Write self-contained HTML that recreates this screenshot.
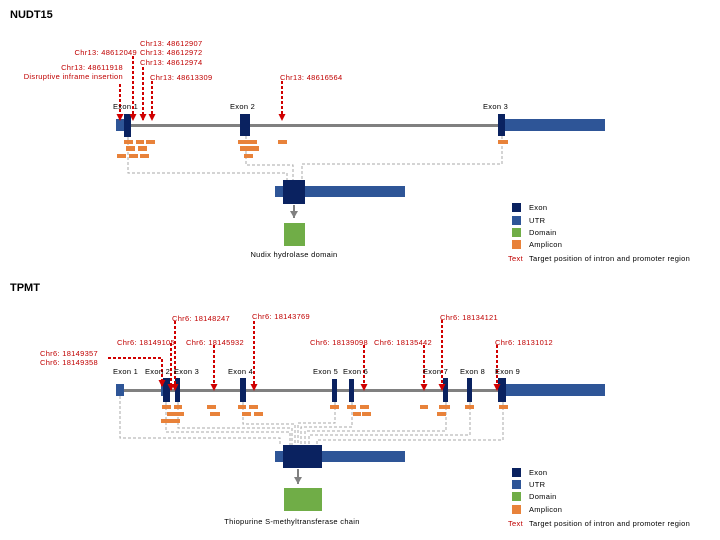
<!DOCTYPE html><html><head><style>body{margin:0;background:#fff}svg{display:block}text{font-family:"Liberation Sans",sans-serif;font-size:7.5px;letter-spacing:0.3px}</style></head><body>
<svg width="720" height="540" xmlns="http://www.w3.org/2000/svg">
<defs><marker id="a" markerWidth="7" markerHeight="8" refX="6" refY="3.5" orient="auto" markerUnits="userSpaceOnUse"><path d="M0,0L7,3.5L0,7z" fill="#d00000"/></marker>
<marker id="g" markerWidth="8" markerHeight="8" refX="7" refY="4" orient="auto" markerUnits="userSpaceOnUse"><path d="M0,0L7,4L0,8z" fill="#808080"/></marker></defs>
<text x="10" y="18" style="font-size:11px;font-weight:bold;letter-spacing:0">NUDT15</text>
<g stroke="#aaa" stroke-dasharray="3,2" fill="none" stroke-width="1">
<path d="M128,137V173H287V180"/><path d="M246,136V165H293V180"/><path d="M502,136V164H302V180"/></g>
<rect x="120" y="124" width="385" height="3" fill="#808080"/>
<rect x="116" y="119" width="8" height="12" fill="#2e5597"/><rect x="505" y="119" width="100" height="12" fill="#2e5597"/>
<g fill="#0a2260"><rect x="124" y="114" width="7" height="23"/><rect x="240" y="114" width="10" height="22"/><rect x="498" y="114" width="7" height="22"/></g>
<g fill="#e8823a"><rect x="124" y="140" width="9" height="4"/><rect x="136" y="140" width="8" height="4"/><rect x="146" y="140" width="9" height="4"/><rect x="126" y="146" width="9" height="5"/><rect x="138" y="146" width="9" height="5"/><rect x="117" y="154" width="9" height="4"/><rect x="129" y="154" width="9" height="4"/><rect x="140" y="154" width="9" height="4"/>
<rect x="238" y="140" width="19" height="4"/><rect x="240" y="146" width="19" height="5"/><rect x="244" y="154" width="9" height="4"/><rect x="278" y="140" width="9" height="4"/><rect x="498" y="140" width="10" height="4"/></g>
<g stroke="#d00000" stroke-width="2" stroke-dasharray="3,2" marker-end="url(#a)"><path d="M120,84V120"/><path d="M133,56V120"/><path d="M143,67V120"/><path d="M152,81V120"/><path d="M282,81V120"/></g>
<g fill="#c00000"><text x="140" y="46">Chr13: 48612907</text><text x="137" y="55" text-anchor="end">Chr13: 48612049</text><text x="140" y="55">Chr13: 48612972</text><text x="140" y="65">Chr13: 48612974</text><text x="123" y="70" text-anchor="end">Chr13: 48611918</text><text x="123" y="79" text-anchor="end">Disruptive inframe insertion</text><text x="150" y="80">Chr13: 48613309</text><text x="280" y="80">Chr13: 48616564</text></g>
<text x="113" y="109">Exon 1</text><text x="230" y="109">Exon 2</text><text x="483" y="109">Exon 3</text>
<rect x="275" y="186" width="130" height="11" fill="#2e5597"/><rect x="283" y="180" width="22" height="24" fill="#0a2260"/>
<path d="M294,205V218" stroke="#808080" stroke-width="2" marker-end="url(#g)"/>
<rect x="284" y="223" width="21" height="23" fill="#70ad47"/>
<text x="294" y="257" text-anchor="middle">Nudix hydrolase domain</text>
<rect x="512" y="203" width="9" height="9" fill="#0a2260"/><rect x="512" y="216" width="9" height="9" fill="#2e5597"/><rect x="512" y="228" width="9" height="9" fill="#70ad47"/><rect x="512" y="240" width="9" height="9" fill="#e8823a"/>
<text x="529" y="210">Exon</text><text x="529" y="223">UTR</text><text x="529" y="235">Domain</text><text x="529" y="247">Amplicon</text><text x="508" y="261" fill="#c00000">Text</text><text x="529" y="261">Target position of intron and promoter region</text>

<text x="10" y="291" style="font-size:11px;font-weight:bold;letter-spacing:0">TPMT</text>
<g stroke="#aaa" stroke-dasharray="3,2" fill="none"><path d="M120,396V438H280V445"/><path d="M166,402V432H290V445"/><path d="M178,402V428H292V445"/><path d="M243,402V424H295V445"/><path d="M335,402V423H298V445"/><path d="M352,402V427H301V445"/><path d="M446,402V431H305V445"/><path d="M470,402V435H309V445"/><path d="M503,402V440H317V445"/></g>
<rect x="118" y="389" width="387" height="3" fill="#808080"/>
<rect x="116" y="384" width="8" height="12" fill="#2e5597"/><rect x="161" y="384" width="4" height="12" fill="#2e5597"/><rect x="505" y="384" width="100" height="12" fill="#2e5597"/>
<g fill="#0a2260"><rect x="163" y="378" width="7" height="24"/><rect x="175" y="378" width="5" height="24"/><rect x="240" y="378" width="6" height="24"/><rect x="332" y="379" width="5" height="23"/><rect x="349" y="379" width="5" height="23"/><rect x="443" y="378" width="5" height="24"/><rect x="467" y="378" width="5" height="24"/><rect x="498" y="378" width="8" height="24"/></g>
<g fill="#e8823a"><rect x="162" y="405" width="9" height="4"/><rect x="174" y="405" width="8" height="4"/><rect x="167" y="412" width="10" height="4"/><rect x="175" y="412" width="9" height="4"/><rect x="161" y="419" width="19" height="4"/>
<rect x="207" y="405" width="9" height="4"/><rect x="210" y="412" width="10" height="4"/><rect x="238" y="405" width="8" height="4"/><rect x="249" y="405" width="9" height="4"/><rect x="242" y="412" width="9" height="4"/><rect x="254" y="412" width="9" height="4"/>
<rect x="330" y="405" width="9" height="4"/><rect x="347" y="405" width="9" height="4"/><rect x="360" y="405" width="9" height="4"/><rect x="353" y="412" width="8" height="4"/><rect x="362" y="412" width="9" height="4"/>
<rect x="420" y="405" width="8" height="4"/><rect x="439" y="405" width="11" height="4"/><rect x="437" y="412" width="9" height="4"/><rect x="465" y="405" width="9" height="4"/><rect x="499" y="405" width="9" height="4"/></g>
<g stroke="#d00000" stroke-width="2" stroke-dasharray="3,2" fill="none"><path d="M108,358H162V386" marker-end="url(#a)"/><path d="M171,343V390" marker-end="url(#a)"/><path d="M175,321V390" marker-end="url(#a)"/><path d="M214,345V390" marker-end="url(#a)"/><path d="M254,321V390" marker-end="url(#a)"/><path d="M364,345V390" marker-end="url(#a)"/><path d="M424,345V390" marker-end="url(#a)"/><path d="M442,320V390" marker-end="url(#a)"/><path d="M497,345V390" marker-end="url(#a)"/></g>
<g fill="#c00000"><text x="40" y="356">Chr6: 18149357</text><text x="40" y="365">Chr6: 18149358</text><text x="117" y="345">Chr6: 18149105</text><text x="172" y="321">Chr6: 18148247</text><text x="186" y="345">Chr6: 18145932</text><text x="252" y="319">Chr6: 18143769</text><text x="310" y="345">Chr6: 18139098</text><text x="374" y="345">Chr6: 18135442</text><text x="440" y="320">Chr6: 18134121</text><text x="495" y="345">Chr6: 18131012</text></g>
<text x="113" y="374">Exon 1</text><text x="145" y="374">Exon 2</text><text x="174" y="374">Exon 3</text><text x="228" y="374">Exon 4</text><text x="313" y="374">Exon 5</text><text x="343" y="374">Exon 6</text><text x="423" y="374">Exon 7</text><text x="460" y="374">Exon 8</text><text x="495" y="374">Exon 9</text>
<rect x="275" y="451" width="130" height="11" fill="#2e5597"/><rect x="283" y="445" width="39" height="23" fill="#0a2260"/>
<path d="M298,469V484" stroke="#808080" stroke-width="2" marker-end="url(#g)"/>
<rect x="284" y="488" width="38" height="23" fill="#70ad47"/>
<text x="292" y="524" text-anchor="middle">Thiopurine S-methyltransferase chain</text>
<rect x="512" y="468" width="9" height="9" fill="#0a2260"/><rect x="512" y="480" width="9" height="9" fill="#2e5597"/><rect x="512" y="492" width="9" height="9" fill="#70ad47"/><rect x="512" y="505" width="9" height="9" fill="#e8823a"/>
<text x="529" y="475">Exon</text><text x="529" y="487">UTR</text><text x="529" y="499">Domain</text><text x="529" y="512">Amplicon</text><text x="508" y="526" fill="#c00000">Text</text><text x="529" y="526">Target position of intron and promoter region</text>
</svg></body></html>
